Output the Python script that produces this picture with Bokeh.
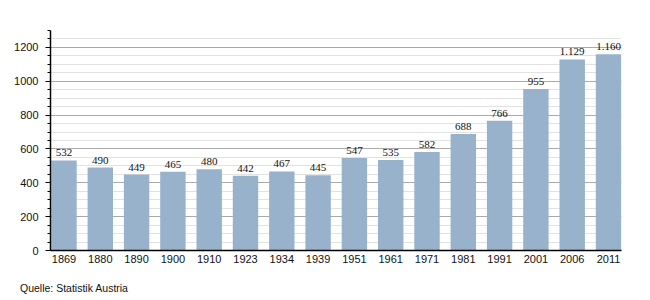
from bokeh.plotting import figure
from bokeh.models import (ColumnDataSource, Range1d, FixedTicker, SingleIntervalTicker,
                          LabelSet, Div)
from bokeh.layouts import column
from bokeh.embed import file_html
from bokeh.resources import INLINE

years = ["1869", "1880", "1890", "1900", "1910", "1923", "1934", "1939",
         "1951", "1961", "1971", "1981", "1991", "2001", "2006", "2011"]
values = [532, 490, 449, 465, 480, 442, 467, 445, 547, 535, 582, 688, 766, 955, 1129, 1160]
value_labels = ["532", "490", "449", "465", "480", "442", "467", "445",
                "547", "535", "582", "688", "766", "955", "1.129", "1.160"]
source_text = "Quelle: Statistik Austria"

FONT = "Liberation Sans"
idx = list(range(len(years)))
src = ColumnDataSource(dict(x=idx, top=values, lab=value_labels))

p = figure(width=650, height=275, output_backend="svg", toolbar_location=None,
           x_range=Range1d(-0.372, len(years) - 1 + 0.358), y_range=Range1d(0, 1300),
           min_border_left=50, min_border_right=29, min_border_top=30, min_border_bottom=25)
p.outline_line_color = None
p.background_fill_color = "white"
p.border_fill_color = "white"

p.vbar(x="x", top="top", width=0.70, bottom=0, source=src,
       fill_color="#98b2cc", line_color=None)

labels = LabelSet(x="x", y="top", text="lab", source=src, text_align="center",
                  text_baseline="bottom", y_offset=4, text_font=FONT,
                  text_font_size="11px", text_color="#111111")
p.add_layout(labels)

# x axis
p.xaxis.ticker = FixedTicker(ticks=idx)
p.xaxis.major_label_overrides = {i: y for i, y in enumerate(years)}
p.xaxis.major_tick_line_color = None
p.xaxis.major_tick_out = 0
p.xaxis.major_tick_in = 0
p.xaxis.minor_tick_line_color = None
p.xaxis.minor_tick_out = 0
p.xaxis.major_label_standoff = 4
p.xaxis.axis_line_color = "black"
p.xaxis.axis_line_width = 1.5
p.xaxis.major_label_text_font = FONT
p.xaxis.major_label_text_font_size = "11px"
p.xaxis.major_label_text_color = "#111111"
p.xgrid.grid_line_color = None

# y axis
p.yaxis.ticker = SingleIntervalTicker(interval=200, num_minor_ticks=4)
p.yaxis.axis_line_color = "black"
p.yaxis.axis_line_width = 1.5
p.yaxis.major_tick_out = 5
p.yaxis.major_tick_in = 0
p.yaxis.minor_tick_out = 3
p.yaxis.minor_tick_in = 0
p.yaxis.major_label_standoff = 7
p.yaxis.major_label_text_font = FONT
p.yaxis.major_label_text_font_size = "11px"
p.yaxis.major_label_text_color = "#111111"
p.ygrid.grid_line_color = "#aaaaaa"
p.ygrid.grid_line_width = 1
p.ygrid.minor_grid_line_color = "#e2e2e2"
p.ygrid.minor_grid_line_width = 1

note = Div(text=source_text, width=650, height=25, margin=(0, 0, 0, 0),
           styles={"font-family": FONT, "font-size": "10.5px", "color": "#111111",
                   "padding-left": "20px", "padding-top": "7px", "line-height": "12px"})

layout = column(p, note, spacing=0, margin=(0, 0, 0, 0))
open("out.html", "w").write(file_html(layout, INLINE))
